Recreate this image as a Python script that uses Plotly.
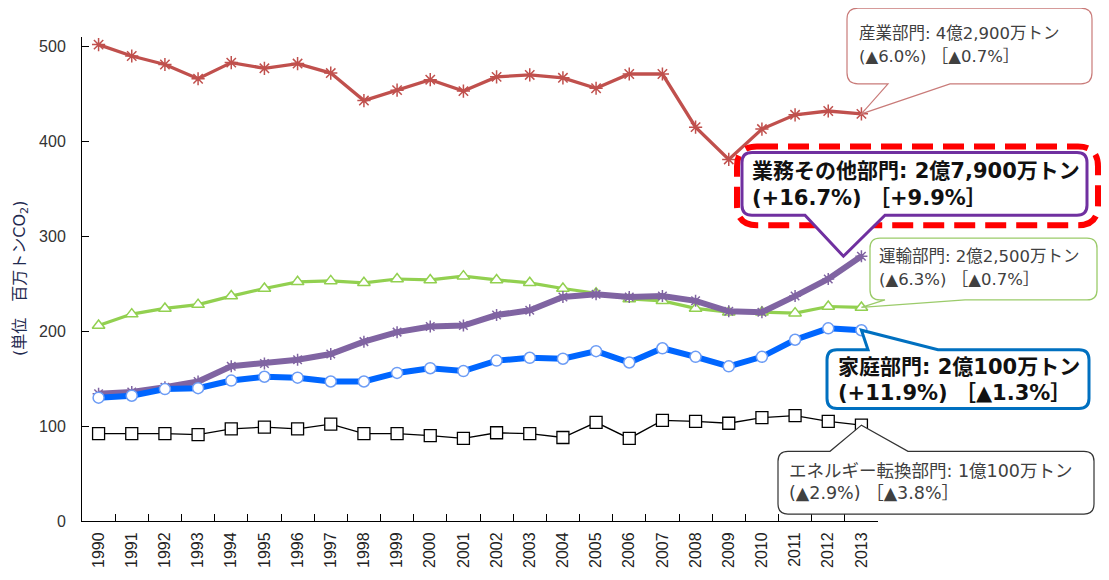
import plotly.graph_objects as go

# ---------------- data ----------------
years = [str(y) for y in range(1990, 2014)]
industry = [502, 490, 481, 466, 483, 477, 482, 472, 443, 454, 465, 453,
            468, 470, 467, 456, 471, 471, 415, 381, 413, 428, 432, 429]
commercial = [134, 136, 141, 147, 163, 166, 170, 176, 189, 199, 205, 206,
              217, 222, 236, 239, 236, 237, 232, 221, 220, 237, 255, 279]
transport = [206, 218, 224, 228, 237, 245, 252, 253, 251, 255, 254, 258,
             254, 251, 245, 240, 234, 232, 224, 220, 220, 219, 226, 225]
residential = [130, 132, 139, 140, 148, 152, 151, 147, 147, 156, 161, 158,
               169, 172, 171, 179, 167, 182, 173, 163, 173, 191, 203, 201]
energy = [92, 92, 92, 91, 97, 99, 97, 102, 92, 92, 90, 87,
          93, 92, 88, 104, 87, 106, 105, 103, 109, 111, 105, 101]

y_ticks = [0, 100, 200, 300, 400, 500]
y_title = "(単位　百万トンCO<sub>2</sub>)"

labels = {
    "industry": ["産業部門: 4億2,900万トン", "(▲6.0%) ［▲0.7%］"],
    "commercial": ["業務その他部門: 2億7,900万トン", "(+16.7%) ［+9.9%］"],
    "transport": ["運輸部門: 2億2,500万トン", "(▲6.3%) ［▲0.7%］"],
    "residential": ["家庭部門: 2億100万トン", "(+11.9%) ［▲1.3%］"],
    "energy": ["エネルギー転換部門: 1億100万トン", "(▲2.9%) ［▲3.8%］"],
}

# ---------------- layout constants (page pixel coords) ----------------
OFF = 8                      # default body margin of the page
PAGE_W, PAGE_H = 1109, 580
PL, PR, PT, PB = 82, 878, 37, 523   # plot area in page pixels
PW = PR - PL
PH = PB - PT
YMAX = 510

C_IND = "#C0504D"
C_COM = "#8064A2"
C_TRA = "#92D050"
C_RES = "#0066FF"
C_ENE = "#000000"

JP = "DejaVu Sans, Noto Sans CJK JP, sans-serif"
LAT = "Liberation Sans, Arial, sans-serif"


def sx(i):
    return PL + (i + 0.5) * PW / len(years)


def sy(v):
    return PB - v * PH / YMAX


def P(X, Y):
    return f"{(X - PL) / PW:.5f},{(PB - Y) / PH:.5f}"


def bubble(left, top, right, bottom, r, side=None, b1=None, b2=None, tip=None):
    p = f"M {P(left + r, top)}"
    if side == "top":
        p += f" L {P(b1, top)} L {P(*tip)} L {P(b2, top)}"
    p += f" L {P(right - r, top)} Q {P(right, top)} {P(right, top + r)}"
    p += f" L {P(right, bottom - r)} Q {P(right, bottom)} {P(right - r, bottom)}"
    if side == "bottom":
        p += f" L {P(b2, bottom)} L {P(*tip)} L {P(b1, bottom)}"
    p += f" L {P(left + r, bottom)} Q {P(left, bottom)} {P(left, bottom - r)}"
    p += f" L {P(left, top + r)} Q {P(left, top)} {P(left + r, top)} Z"
    return p


fig = go.Figure()

fig.add_trace(go.Scatter(
    x=years, y=energy, mode="lines+markers",
    line=dict(color=C_ENE, width=1.3),
    marker=dict(symbol="square", size=12, color="white",
                line=dict(color="#000000", width=1.3)),
    name="エネルギー転換部門"))
fig.add_trace(go.Scatter(
    x=years, y=transport, mode="lines+markers",
    line=dict(color=C_TRA, width=3.2),
    marker=dict(symbol="triangle-up", size=11, color="white",
                line=dict(color=C_TRA, width=1.5)),
    name="運輸部門"))
fig.add_trace(go.Scatter(
    x=years, y=commercial, mode="lines+markers",
    line=dict(color=C_COM, width=6),
    marker=dict(symbol="asterisk-open", size=10,
                line=dict(color=C_COM, width=1.5)),
    name="業務その他部門"))
fig.add_trace(go.Scatter(
    x=years, y=residential, mode="lines+markers",
    line=dict(color=C_RES, width=6),
    marker=dict(symbol="circle", size=11, color="white",
                line=dict(color="#6C9CF5", width=1.5)),
    name="家庭部門"))
fig.add_trace(go.Scatter(
    x=years, y=industry, mode="lines+markers",
    line=dict(color=C_IND, width=3.3),
    marker=dict(symbol="asterisk-open", size=11,
                line=dict(color=C_IND, width=1.5)),
    name="産業部門"))

last = len(years) - 1
shapes = []
annos = []


def add_text(lines, x, y1, y2, size, color, bold=False):
    for t, yy in zip(lines, (y1, y2)):
        annos.append(dict(
            xref="paper", yref="paper",
            x=(x - PL) / PW, y=(PB - yy) / PH,
            xanchor="left", yanchor="middle", showarrow=False,
            text=f"<b>{t}</b>" if bold else t,
            font=dict(family=JP, size=size, color=color)))


# industry bubble
shapes.append(dict(type="path", xref="paper", yref="paper", layer="above",
                   path=bubble(847, 8, 1092, 84, 11, "bottom", 888, 950,
                               (sx(last), sy(industry[last]))),
                   fillcolor="white", line=dict(color="#C97B79", width=1.2)))
add_text(labels["industry"], 857, 33, 57, 16.5, "#404040")

# commercial bubble + red dashed frame
shapes.append(dict(type="path", xref="paper", yref="paper", layer="above",
                   path=bubble(737, 147, 1098, 226, 20),
                   fillcolor="rgba(0,0,0,0)",
                   line=dict(color="#FF0000", width=6, dash="21px,10px")))
shapes.append(dict(type="path", xref="paper", yref="paper", layer="above",
                   path=bubble(742, 153, 1087, 216, 10, "bottom", 805, 885,
                               (sx(last) - 18, sy(commercial[last]))),
                   fillcolor="white", line=dict(color="#7030A0", width=3)))
add_text(labels["commercial"], 750, 172, 199, 21, "#111111", bold=True)

# transport bubble
shapes.append(dict(type="path", xref="paper", yref="paper", layer="above",
                   path=bubble(870, 239, 1097, 301, 10, "bottom", 885, 965,
                               (sx(last), sy(transport[last]))),
                   fillcolor="white", line=dict(color="#9BCB6A", width=1.3)))
add_text(labels["transport"], 877, 257, 280, 16.5, "#404040")

# residential bubble
shapes.append(dict(type="path", xref="paper", yref="paper", layer="above",
                   path=bubble(827, 351, 1089, 410, 10, "top", 868, 938,
                               (sx(last), sy(residential[last]))),
                   fillcolor="white", line=dict(color="#0070C0", width=3)))
add_text(labels["residential"], 836, 368, 394, 21, "#111111", bold=True)

# energy bubble
shapes.append(dict(type="path", xref="paper", yref="paper", layer="above",
                   path=bubble(778, 453, 1094, 516, 10, "top", 830, 908,
                               (sx(last), sy(energy[last]))),
                   fillcolor="white", line=dict(color="#333333", width=1.2)))
add_text(labels["energy"], 787, 473, 495, 17.5, "#404040")

# y axis title
annos.append(dict(xref="paper", yref="paper", x=(20 - PL) / PW, y=0.5,
                  xanchor="center", yanchor="middle", showarrow=False,
                  textangle=-90, text=y_title,
                  font=dict(family=JP, size=16, color="#1F2A50")))

fig.update_layout(
    width=PAGE_W - OFF, height=PAGE_H - OFF,
    margin=dict(l=PL - OFF, r=PAGE_W - PR, t=PT - OFF, b=PAGE_H - PB, pad=0),
    paper_bgcolor="white", plot_bgcolor="white",
    showlegend=False,
    shapes=shapes, annotations=annos,
    xaxis=dict(type="category", range=[-0.5, len(years) - 0.5],
               tickson="boundaries", ticks="inside", ticklen=7,
               tickcolor="#000", showline=True, linecolor="#000",
               linewidth=1, showgrid=False, zeroline=False,
               tickangle=-90, ticklabelstandoff=4,
               tickfont=dict(family=LAT, size=16, color="#222222")),
    yaxis=dict(range=[0, YMAX], tickvals=y_ticks, ticks="inside",
               ticklen=7, tickcolor="#000", showline=True,
               linecolor="#000", linewidth=1, showgrid=False,
               zeroline=False, ticklabelstandoff=12,
               tickfont=dict(family=LAT, size=16, color="#333333")),
)

fig.write_html("out.html")
